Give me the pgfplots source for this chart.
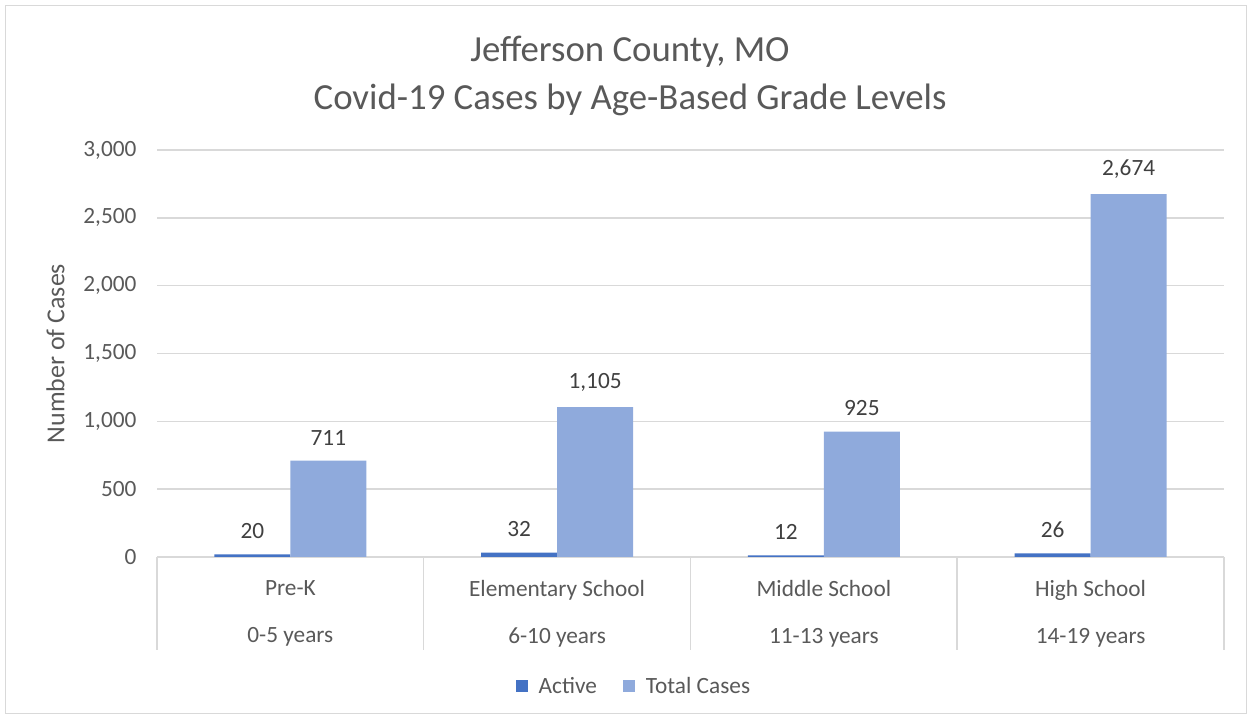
\documentclass[border=0pt]{standalone}
\usepackage{pgfplots}
\pgfplotsset{compat=1.18}
\usepackage{fontspec}
\setmainfont{Carlito}
\definecolor{cActive}{HTML}{4472C4}
\definecolor{cTotal}{HTML}{8FAADC}
\definecolor{cGrid}{HTML}{D9D9D9}
\definecolor{cText}{HTML}{595959}
\definecolor{cLab}{HTML}{404040}
\begin{document}
\begin{tikzpicture}
\path[use as bounding box] (0,0) rectangle (1252pt,719pt);
\draw[cGrid, line width=1.5pt] (5.5pt,5.5pt) rectangle (1246.5pt,713.5pt);
\node[text=cText, align=center, font=\fontsize{36.8}{48}\selectfont] at (630pt,643pt) {Jefferson County, MO\\Covid-19 Cases by Age-Based Grade Levels};
\begin{axis}[
  at={(157pt,162pt)}, anchor=south west,
  scale only axis, width=1067pt, height=407pt,
  xmin=0, xmax=4, ymin=0, ymax=3000,
  clip=false,
  ybar=0pt, bar width=76pt,
  axis x line*=bottom, axis y line*=left,
  y axis line style={draw=none},
  x axis line style={cGrid, line width=1.5pt},
  ytick={0,500,...,3000},
  ymajorgrids, grid style={cGrid, line width=1.5pt},
  ytick style={draw=none},
  major tick length=0pt,
  xtick={0.5,1.5,2.5,3.5},
  xtick style={draw=none},
  xticklabels={{Pre-K\\0-5 years},{Elementary School\\6-10 years},{Middle School\\11-13 years},{High School\\14-19 years}},
  xticklabel style={align=center, font=\fontsize{23.3}{47}\selectfont, text=cText, yshift=-20pt},
  yticklabel style={font=\fontsize{23.3}{28}\selectfont, text=cText, xshift=-17pt},
  /pgf/number format/assume math mode=true,
  /pgf/number format/1000 sep={,},
  ylabel={Number of Cases},
  ylabel style={font=\fontsize{25.9}{30}\selectfont, text=cText, yshift=12pt},
  nodes near coords,
  every node near coord/.append style={font=\fontsize{23.3}{28}\selectfont, text=cLab, yshift=12pt, /pgf/number format/1000 sep={,}},
  legend style={at={(0.447,-0.317)}, anchor=center, draw=none, legend columns=-1,
    font=\fontsize{23.3}{28}\selectfont, text=cText,
    /tikz/every odd column/.append style={column sep=9pt},
    /tikz/every even column/.append style={column sep=24pt}},
  legend image code/.code={\fill[#1] (0pt,-6pt) rectangle (12pt,6pt);},
]
\addplot[fill=cActive, draw=none] coordinates {(0.5,20) (1.5,32) (2.5,12) (3.5,26)};
\addplot[fill=cTotal, draw=none] coordinates {(0.5,711) (1.5,1105) (2.5,925) (3.5,2674)};
\legend{Active, Total Cases}
\pgfplotsinvokeforeach{0,1,2,3,4}{\draw[cGrid, line width=1.5pt] (axis cs:#1,0) -- ++(0pt,-93pt);}
\end{axis}
\end{tikzpicture}
\end{document}
